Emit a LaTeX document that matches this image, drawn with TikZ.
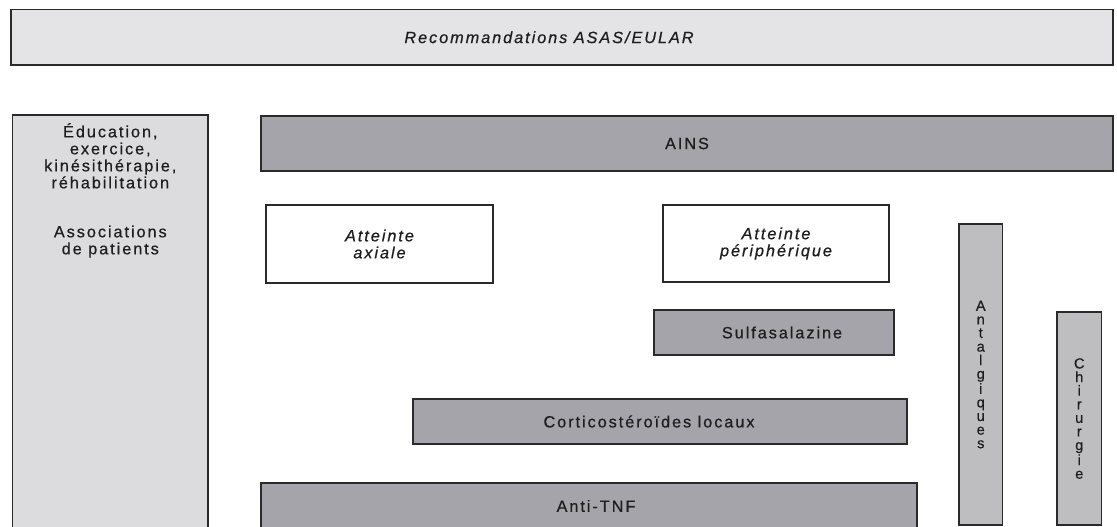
\documentclass[tikz,border=0pt]{standalone}
\usepackage{fontspec}
\setmainfont{Liberation Sans}[LetterSpace=12, FakeBold=0.6]
\definecolor{edgec}{HTML}{2A2A2A}
\definecolor{textc}{HTML}{1E1E1E}
\definecolor{topc}{HTML}{E4E4E6}
\definecolor{leftc}{HTML}{DCDCDE}
\definecolor{darkc}{HTML}{A4A4AA}
\definecolor{midc}{HTML}{BEBEC0}
\begin{document}
\begin{tikzpicture}[x=0.75pt,y=-0.75pt,
  base/.style={draw=edgec, line width=1.1pt, rectangle, inner sep=0pt, text=textc,
    font=\fontsize{12.2pt}{12.75pt}\selectfont, align=center},
  topbox/.style={base, fill=topc},
  leftbox/.style={base, fill=leftc},
  darkbox/.style={base, fill=darkc},
  whitebox/.style={base, fill=white},
  vertbox/.style={base, fill=midc, font=\fontsize{11pt}{10.2pt}\selectfont},
  sz/.style 2 args={minimum width=#1*0.75pt, minimum height=#2*0.75pt}]
\clip (0,0) rectangle (1117,526);
\fill[white] (0,0) rectangle (1117,526);

\node[topbox, sz={1102}{55.5}] (rec) at (562,37.25) {\hspace*{-19.5pt}\itshape Recommandations ASAS/EULAR};

\node[leftbox, sz={195.3}{420},
  label={[anchor=north, align=center, text=textc, inner sep=0pt, yshift=-6.5pt,
    font=\fontsize{12.2pt}{12.75pt}\selectfont]north:{Éducation,\\exercice,\\kinésithérapie,\\réhabilitation\\[24pt]Associations\\de patients}}]
  (edu) at (110.3,325) {};

\node[darkbox, sz={852}{55}] (ains) at (687,143.5) {AINS};

\node[whitebox, sz={227}{78}] (axiale) at (379.5,244) {\itshape Atteinte\\\itshape axiale};
\node[whitebox, sz={226}{77}] (periph) at (776,243.5) {\itshape Atteinte\\\itshape périphérique};

\node[vertbox, sz={43.5}{301}] (antalg) at (980.75,374.5) {A\\n\\t\\a\\l\\g\\i\\q\\u\\e\\s};
\node[vertbox, sz={44.5}{213}] (chir) at (1079.25,418.5) {C\\h\\i\\r\\u\\r\\g\\i\\e};

\node[darkbox, sz={240}{45}] (sulfa) at (774,332.5) {\hspace*{12pt}Sulfasalazine};
\node[darkbox, sz={494}{45}] (cortico) at (660,421.5) {\hspace*{-16.5pt}Corticostéroïdes locaux};
\node[darkbox, sz={656}{46}] (antitnf) at (589,506) {\hspace*{10.5pt}Anti-TNF};
\end{tikzpicture}
\end{document}
